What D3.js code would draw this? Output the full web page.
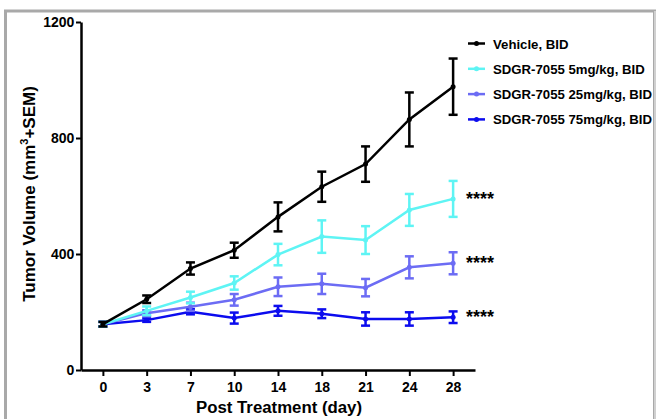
<!DOCTYPE html>
<meta charset="utf-8">
<style>
body { margin: 0; background: #fff; }
svg text { font-family: "Liberation Sans", Arial, sans-serif; font-weight: bold; }
</style>
<body>
<div id="chart"></div>
<script src="https://cdn.jsdelivr.net/npm/d3@7"></script>
<script>
var days = ["0", "3", "7", "10", "14", "18", "21", "24", "28"];
var yTicks = [0, 400, 800, 1200];

var seriesNames = ["Vehicle, BID", "SDGR-7055 5mg/kg, BID", "SDGR-7055 25mg/kg, BID", "SDGR-7055 75mg/kg, BID"];
var seriesColors = ["#000000", "#5ef4f4", "#6c6cf4", "#0c0cee"];

var vehicleMean = [158, 244, 350, 413, 528, 632, 710, 864, 977];
var vehicleSem  = [8, 13, 21, 26, 50, 52, 61, 93, 97];
var low5Mean    = [158, 204, 250, 300, 398, 460, 448, 552, 590];
var low5Sem     = [8, 15, 20, 23, 37, 56, 48, 55, 62];
var mid25Mean   = [158, 196, 218, 242, 287, 297, 284, 354, 368];
var mid25Sem    = [8, 10, 14, 20, 32, 35, 30, 38, 38];
var high75Mean  = [158, 172, 201, 179, 204, 194, 176, 176, 182];
var high75Sem   = [8, 6, 9, 19, 17, 15, 23, 23, 20];

var starLabels = ["", "****", "****", "****"];

var means = [vehicleMean, low5Mean, mid25Mean, high75Mean];
var sems = [vehicleSem, low5Sem, mid25Sem, high75Sem];

var series = seriesNames.map(function(name, i) {
  return {
    name: name, color: seriesColors[i], stars: starLabels[i],
    values: days.map(function(d, j) { return {day: d, mean: means[i][j], sem: sems[i][j]}; })
  };
});

var W = 656, H = 419;
var svg = d3.select("#chart").append("svg").attr("width", W).attr("height", H);

// grey frame round the plot
svg.append("rect").attr("x", 5.5).attr("y", 11).attr("width", 649).attr("height", 430)
  .attr("fill", "none").attr("stroke", "#a9a9a9").attr("stroke-width", 3);
svg.append("line").attr("x1", 655).attr("x2", 655).attr("y1", 11).attr("y2", 419)
  .attr("stroke", "#d0d0d0").attr("stroke-width", 2);

var x = d3.scalePoint().domain(days).range([81, 475]).padding(0.5);
var y = d3.scaleLinear().domain([0, 1200]).range([370, 22]);

var xAxis = svg.append("g").attr("transform", "translate(0,370)")
  .call(d3.axisBottom(x).tickSize(6).tickSizeOuter(0));
var yAxis = svg.append("g").attr("transform", "translate(81,0)")
  .call(d3.axisLeft(y).tickValues(yTicks).tickFormat(d3.format("d")).tickSize(5).tickSizeOuter(0));

[xAxis, yAxis].forEach(function(g) {
  g.select(".domain").attr("stroke", "#000").attr("stroke-width", 2.5);
  g.selectAll(".tick line").attr("stroke", "#000").attr("stroke-width", 2);
  g.selectAll(".tick text").attr("font-size", 14).attr("fill", "#000");
});
xAxis.selectAll(".tick text").attr("dy", "0.9em");
yAxis.selectAll(".tick text").attr("dx", "0.1em");

svg.append("text").attr("x", 279).attr("y", 413).attr("text-anchor", "middle")
  .attr("font-size", 16.8).text("Post Treatment (day)");

var yt = svg.append("text").attr("transform", "translate(35,194) rotate(-90)")
  .attr("text-anchor", "middle").attr("font-size", 17);
yt.append("tspan").text("Tumor Volume (mm");
yt.append("tspan").attr("font-size", 11).attr("dy", -7).text("3");
yt.append("tspan").attr("dy", 7).text("+SEM)");

var line = d3.line().x(function(d) { return x(d.day); }).y(function(d) { return y(d.mean); });

var groups = svg.selectAll(".series").data(series.slice().reverse()).enter()
  .append("g").attr("class", "series");

groups.each(function(s) {
  var g = d3.select(this);
  g.append("path").attr("d", line(s.values)).attr("fill", "none")
    .attr("stroke", s.color).attr("stroke-width", 2.5);
  var eb = g.selectAll(".eb").data(s.values).enter().append("g");
  eb.append("line")
    .attr("x1", function(d) { return x(d.day); }).attr("x2", function(d) { return x(d.day); })
    .attr("y1", function(d) { return y(d.mean + d.sem); }).attr("y2", function(d) { return y(d.mean - d.sem); })
    .attr("stroke", s.color).attr("stroke-width", 2.5);
  [1, -1].forEach(function(sign) {
    eb.append("line")
      .attr("x1", function(d) { return x(d.day) - 4.5; }).attr("x2", function(d) { return x(d.day) + 4.5; })
      .attr("y1", function(d) { return y(d.mean + sign * d.sem); })
      .attr("y2", function(d) { return y(d.mean + sign * d.sem); })
      .attr("stroke", s.color).attr("stroke-width", 2.5);
  });
  eb.append("circle").attr("cx", function(d) { return x(d.day); })
    .attr("cy", function(d) { return y(d.mean); }).attr("r", 2.5).attr("fill", s.color);
  if (s.stars) {
    var last = s.values[s.values.length - 1];
    g.append("text").attr("x", x(last.day) + 13).attr("y", y(last.mean) + 6)
      .attr("font-size", 18).attr("font-weight", "normal").attr("fill", "#000").text(s.stars);
  }
});

// legend
var legend = svg.selectAll(".legend").data(series).enter().append("g")
  .attr("transform", function(d, i) { return "translate(468," + (43.5 + i * 25.3) + ")"; });
legend.append("line").attr("x1", 0).attr("x2", 17).attr("stroke", function(d) { return d.color; })
  .attr("stroke-width", 2.5);
legend.append("circle").attr("cx", 8.5).attr("r", 2.5).attr("fill", function(d) { return d.color; });
legend.append("text").attr("x", 25).attr("y", 5).attr("font-size", 13.2).attr("fill", "#000")
  .text(function(d) { return d.name; });
</script>
</body>
